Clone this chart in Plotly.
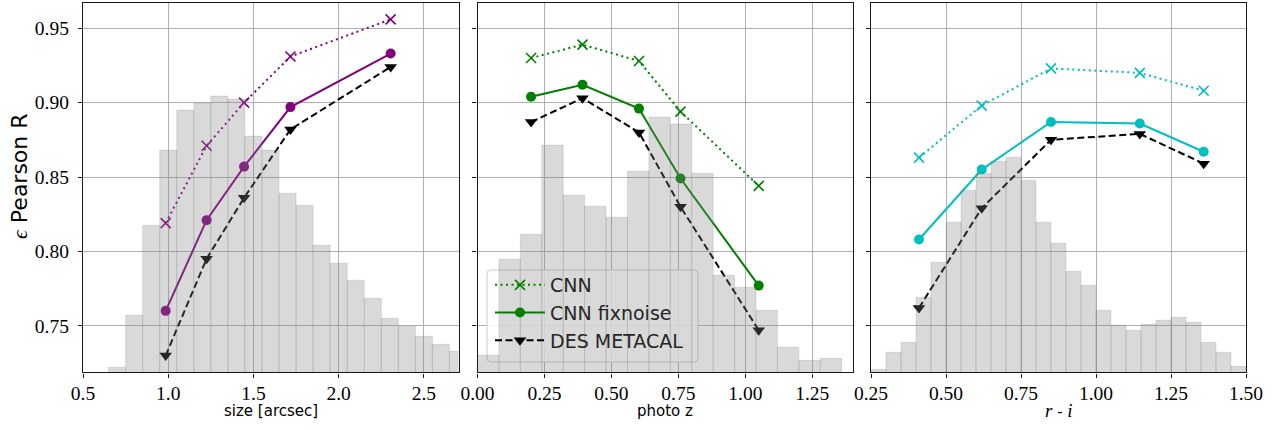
import plotly.graph_objects as go

# --- binned correlation (epsilon Pearson R) versus three galaxy properties ---
size_x = [0.985, 1.225, 1.445, 1.717, 2.305]
size_cnn = [0.819, 0.871, 0.900, 0.931, 0.956]
size_fix = [0.760, 0.821, 0.857, 0.897, 0.933]
size_des = [0.730, 0.795, 0.836, 0.882, 0.924]

photoz_x = [0.200, 0.392, 0.603, 0.758, 1.050]
photoz_cnn = [0.930, 0.939, 0.928, 0.894, 0.844]
photoz_fix = [0.904, 0.912, 0.896, 0.849, 0.777]
photoz_des = [0.887, 0.903, 0.880, 0.830, 0.747]

ri_x = [0.410, 0.619, 0.850, 1.146, 1.359]
ri_cnn = [0.863, 0.898, 0.923, 0.920, 0.908]
ri_fix = [0.808, 0.855, 0.887, 0.886, 0.867]
ri_des = [0.762, 0.829, 0.875, 0.879, 0.859]

# --- underlying sample distributions (left bin edges, scaled counts) ---
size_bins = [0.65, 0.75, 0.85, 0.95, 1.05, 1.15, 1.25, 1.35, 1.45, 1.55, 1.65,
             1.75, 1.85, 1.95, 2.05, 2.15, 2.25, 2.35, 2.45, 2.55, 2.65]
size_counts = [5, 57, 147, 222, 262, 269, 276, 273, 236, 222, 179,
               167, 127, 109, 92, 74, 54, 46, 36, 28, 21]

photoz_bins = [0.00, 0.08, 0.16, 0.24, 0.32, 0.40, 0.48, 0.56, 0.64,
               0.72, 0.80, 0.88, 0.96, 1.04, 1.12, 1.20, 1.28]
photoz_counts = [17, 113, 138, 227, 177, 166, 155, 201, 255,
                 248, 199, 97, 85, 62, 25, 12, 14]

ri_bins = [0.25, 0.30, 0.35, 0.40, 0.45, 0.50, 0.55, 0.60, 0.65, 0.70, 0.75,
           0.80, 0.85, 0.90, 0.95, 1.00, 1.05, 1.10, 1.15, 1.20, 1.25, 1.30,
           1.35, 1.40, 1.45]
ri_counts = [3, 20, 30, 75, 110, 150, 182, 199, 211, 215, 192,
             150, 129, 101, 87, 62, 47, 42, 48, 52, 55, 50,
             30, 20, 6]

W, H = 1280, 430
X_DOM = [[83 / W, 458.5 / W], [477.5 / W, 853 / W], [871 / W, 1246 / W]]
Y_DOM = [1 - 372.3 / H, 1 - 2.7 / H]
Y_RANGE = [0.7187, 0.9672]
HIST_TOP = 369.3

GRID = "#b0b0b0"
FRAME = "#1a1a1a"
TICK_FONT = dict(family="Liberation Serif", size=19.5, color="black")

panels = [
    dict(x=size_x, cnn=size_cnn, fix=size_fix, des=size_des, color="#800080",
         bins=size_bins, counts=size_counts, bw=0.1, xr=[0.5, 2.703],
         ticks=[0.5, 1.0, 1.5, 2.0, 2.5], fmt=".1f"),
    dict(x=photoz_x, cnn=photoz_cnn, fix=photoz_fix, des=photoz_des, color="#008000",
         bins=photoz_bins, counts=photoz_counts, bw=0.08, xr=[0.0, 1.402],
         ticks=[0.0, 0.25, 0.5, 0.75, 1.0, 1.25], fmt=".2f"),
    dict(x=ri_x, cnn=ri_cnn, fix=ri_fix, des=ri_des, color="#00bfbf",
         bins=ri_bins, counts=ri_counts, bw=0.05, xr=[0.25, 1.50],
         ticks=[0.25, 0.5, 0.75, 1.0, 1.25, 1.5], fmt=".2f"),
]

fig = go.Figure()
layout = {}

for i, p in enumerate(panels):
    n = i + 1
    xa = "x" if n == 1 else f"x{n}"
    ya = "y" if n == 1 else f"y{n}"
    yh = f"y{n + 3}"
    leg = n == 2

    fig.add_trace(go.Scatter(
        x=p["x"], y=p["cnn"], mode="lines+markers", name="CNN", showlegend=leg,
        line=dict(color=p["color"], width=2, dash="2px,3.5px"),
        marker=dict(symbol="x-thin", size=10, color=p["color"],
                    line=dict(width=1.6, color=p["color"])),
        xaxis=xa, yaxis=ya))
    fig.add_trace(go.Scatter(
        x=p["x"], y=p["fix"], mode="lines+markers", name="CNN fixnoise", showlegend=leg,
        line=dict(color=p["color"], width=2),
        marker=dict(symbol="circle", size=10, color=p["color"]),
        xaxis=xa, yaxis=ya))
    fig.add_trace(go.Scatter(
        x=p["x"], y=p["des"], mode="lines+markers", name="DES METACAL", showlegend=leg,
        line=dict(color="black", width=2, dash="7px,3.5px"),
        marker=dict(symbol="triangle-down", size=11, color="black"),
        xaxis=xa, yaxis=ya))

    # histogram on a hidden twin axis, drawn over the curves
    fig.add_trace(go.Bar(
        x=p["bins"], y=p["counts"], width=p["bw"], offset=0, showlegend=False,
        marker=dict(color="rgba(128,128,128,0.3)",
                    line=dict(color="rgba(110,110,110,0.22)", width=0.8)),
        hoverinfo="skip", xaxis=xa, yaxis=yh))

    layout["xaxis" if n == 1 else f"xaxis{n}"] = dict(
        domain=X_DOM[i], range=p["xr"], anchor=ya, tickvals=p["ticks"],
        tickformat=p["fmt"], ticks="outside", ticklen=4, tickwidth=1, tickcolor=FRAME,
        showline=True, mirror=True, linecolor=FRAME, linewidth=1.4,
        showgrid=True, gridcolor=GRID, gridwidth=1, zeroline=False,
        tickfont=TICK_FONT, ticklabelstandoff=-1, automargin=False)
    layout["yaxis" if n == 1 else f"yaxis{n}"] = dict(
        domain=Y_DOM, range=Y_RANGE, anchor=xa,
        tickvals=[0.75, 0.80, 0.85, 0.90, 0.95], tickformat=".2f",
        ticks="outside", ticklen=4, tickwidth=1, tickcolor=FRAME,
        showticklabels=(n == 1), showline=True, mirror=True,
        linecolor=FRAME, linewidth=1.4, showgrid=True, gridcolor=GRID,
        gridwidth=1, zeroline=False, tickfont=TICK_FONT, ticklabelstandoff=5,
        automargin=False)
    layout[f"yaxis{n + 3}"] = dict(
        overlaying=ya, anchor=xa, range=[0, HIST_TOP], visible=False,
        showgrid=False, zeroline=False, automargin=False)


# legend frame in the middle panel, placed in its data coordinates so it
# sits above the grid but under the histogram bars
def px_to_x2(px):
    x0, x1 = panels[1]["xr"]
    return x0 + (px - 477.5) / 375.5 * (x1 - x0)


def px_to_y2(py):
    y0, y1 = Y_RANGE
    return y0 + (372.3 - py) / 369.6 * (y1 - y0)


lx0, lx1 = px_to_x2(487), px_to_x2(698)
ly0, ly1 = px_to_y2(362), px_to_y2(270)
rx = px_to_x2(481.5) - px_to_x2(477.5)
ry = px_to_y2(368.3) - px_to_y2(372.3)
legend_path = (
    f"M{lx0 + rx},{ly0} L{lx1 - rx},{ly0} Q{lx1},{ly0} {lx1},{ly0 + ry} "
    f"L{lx1},{ly1 - ry} Q{lx1},{ly1} {lx1 - rx},{ly1} "
    f"L{lx0 + rx},{ly1} Q{lx0},{ly1} {lx0},{ly1 - ry} "
    f"L{lx0},{ly0 + ry} Q{lx0},{ly0} {lx0 + rx},{ly0} Z"
)

title_font = dict(family="DejaVu Sans", size=15, color="black")
annotations = [
    dict(text="size [arcsec]", x=sum(X_DOM[0]) / 2, y=1 - 411 / H),
    dict(text="photo z", x=sum(X_DOM[1]) / 2, y=1 - 411 / H),
    dict(text="<span style='font-family:Liberation Serif;font-size:19px'><i>r</i></span>"
              " - <span style='font-family:Liberation Serif;font-size:19px'><i>i</i></span>",
         x=sum(X_DOM[2]) / 2, y=1 - 410 / H),
]
for a in annotations:
    a.update(xref="paper", yref="paper", showarrow=False, font=title_font,
             xanchor="center", yanchor="middle")
annotations.append(dict(
    text="<span style='font-family:Liberation Serif'><i>ϵ</i></span> Pearson R",
    x=19 / W, y=1 - 176 / H, xref="paper", yref="paper", showarrow=False,
    textangle=-90, xanchor="center", yanchor="middle",
    font=dict(family="DejaVu Sans", size=22, color="black")))

fig.update_layout(
    width=W, height=H, autosize=False,
    margin=dict(l=0, r=0, t=0, b=0),
    paper_bgcolor="white", plot_bgcolor="white",
    barmode="overlay",
    annotations=annotations,
    shapes=[dict(type="path", path=legend_path, xref="x2", yref="y2",
                 layer="between", fillcolor="rgba(255,255,255,0.85)",
                 line=dict(color="#cccccc", width=1))],
    legend=dict(x=490 / W, y=1 - 266 / H, xanchor="left", yanchor="top",
                bgcolor="rgba(0,0,0,0)", borderwidth=0, itemwidth=50,
                font=dict(family="DejaVu Sans", size=19, color="#262626")),
    **layout,
)

fig.write_html("out.html", config={"displayModeBar": False})
